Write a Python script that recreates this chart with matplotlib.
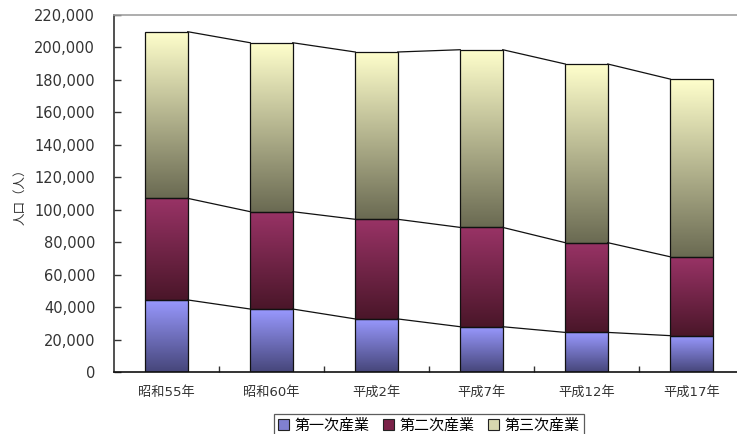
import numpy as np
import matplotlib
matplotlib.use("Agg")
import matplotlib.pyplot as plt
from matplotlib.colors import LinearSegmentedColormap
from matplotlib.patches import Patch
from matplotlib.ticker import FuncFormatter, FixedLocator

plt.rcParams["font.family"] = ["DejaVu Sans", "Noto Sans CJK JP"]

# 産業別就業人口
years = ["昭和55年", "昭和60年", "平成2年", "平成7年", "平成12年", "平成17年"]
series_names = ["第一次産業", "第二次産業", "第三次産業"]
primary = [44400, 38800, 32700, 27900, 24400, 22400]
secondary = [62600, 60000, 61400, 61200, 55300, 48600]
tertiary = [102700, 104100, 103100, 109500, 110100, 109500]

# 上（明）→ 下（暗）のグラデーション
grad_colors = [
    ("#9999ff", "#46467a"),
    ("#993366", "#4a1629"),
    ("#ffffcc", "#6a6a52"),
]

fig = plt.figure(figsize=(7.37, 4.34), dpi=100)
ax = fig.add_axes([114 / 737, 62 / 434, 630 / 737, 357 / 434])

x = np.arange(len(years))
width = 0.405
grad = np.linspace(1, 0, 256).reshape(-1, 1)

bottom = np.zeros(len(years))
levels = []
for vals, (top_c, bot_c), name in zip([primary, secondary, tertiary], grad_colors, series_names):
    vals = np.array(vals, dtype=float)
    bars = ax.bar(x, vals, width, bottom=bottom, facecolor="none",
                  edgecolor="#111111", linewidth=0.9, zorder=3, label=name)
    cmap = LinearSegmentedColormap.from_list(name, [bot_c, top_c])
    for b in bars:
        bx, by = b.get_x(), b.get_y()
        bw, bh = b.get_width(), b.get_height()
        im = ax.imshow(grad, extent=[bx, bx + bw, by, by + bh], aspect="auto",
                       cmap=cmap, vmin=0, vmax=1, zorder=2, interpolation="bilinear")
        im.set_clip_path(b)
    bottom = bottom + vals
    levels.append(bottom.copy())

# 区分線
for lev in levels:
    for i in range(len(years) - 1):
        ax.plot([x[i] + width / 2, x[i + 1] - width / 2], [lev[i], lev[i + 1]],
                color="#111111", linewidth=0.9, zorder=3)

ax.set_xlim(-0.5, len(years) - 0.5)
ax.set_ylim(0, 220000)

ax.set_yticks(np.arange(0, 220001, 20000))
ax.yaxis.set_major_formatter(FuncFormatter(lambda v, p: f"{int(v):,}"))
ax.tick_params(axis="y", direction="in", length=5, width=1, pad=13.5,
               labelsize=10.5, labelcolor="#333333", color="#333333")

ax.xaxis.set_major_locator(FixedLocator(np.arange(0.5, len(years) - 0.5, 1)))
ax.xaxis.set_minor_locator(FixedLocator(x))
ax.set_xticklabels([], minor=False)
ax.set_xticklabels(years, minor=True)
ax.tick_params(axis="x", which="major", direction="in", length=4, width=1, color="#333333")
ax.tick_params(axis="x", which="minor", length=0, pad=10, labelsize=9.5, labelcolor="#333333")

ax.spines["left"].set_color("#333333")
ax.spines["left"].set_linewidth(1.2)
ax.spines["bottom"].set_color("#111111")
ax.spines["bottom"].set_linewidth(1.2)
ax.spines["top"].set_color("#a0a0a0")
ax.spines["top"].set_linewidth(1.2)
ax.spines["right"].set_visible(False)

ax.set_ylabel("人口（人）", fontsize=9, color="#333333", labelpad=6,
              family=["Noto Sans CJK JP", "DejaVu Sans"])

handles = [Patch(facecolor=c, edgecolor="#222222", linewidth=0.8)
           for c in ["#8080d0", "#7a2248", "#d8d8b0"]]
leg = fig.legend(handles, series_names, loc="upper center", ncol=3,
                 bbox_to_anchor=(429 / 737, 1 - 414 / 434), frameon=True,
                 fancybox=False, edgecolor="#333333", handlelength=0.7,
                 handleheight=0.7, handletextpad=0.4, columnspacing=0.9,
                 borderpad=0.3, borderaxespad=0,
                 prop={"family": "Noto Sans CJK JP", "size": 10.8})
leg.get_frame().set_linewidth(0.9)

fig.savefig("out.png", dpi=100)
